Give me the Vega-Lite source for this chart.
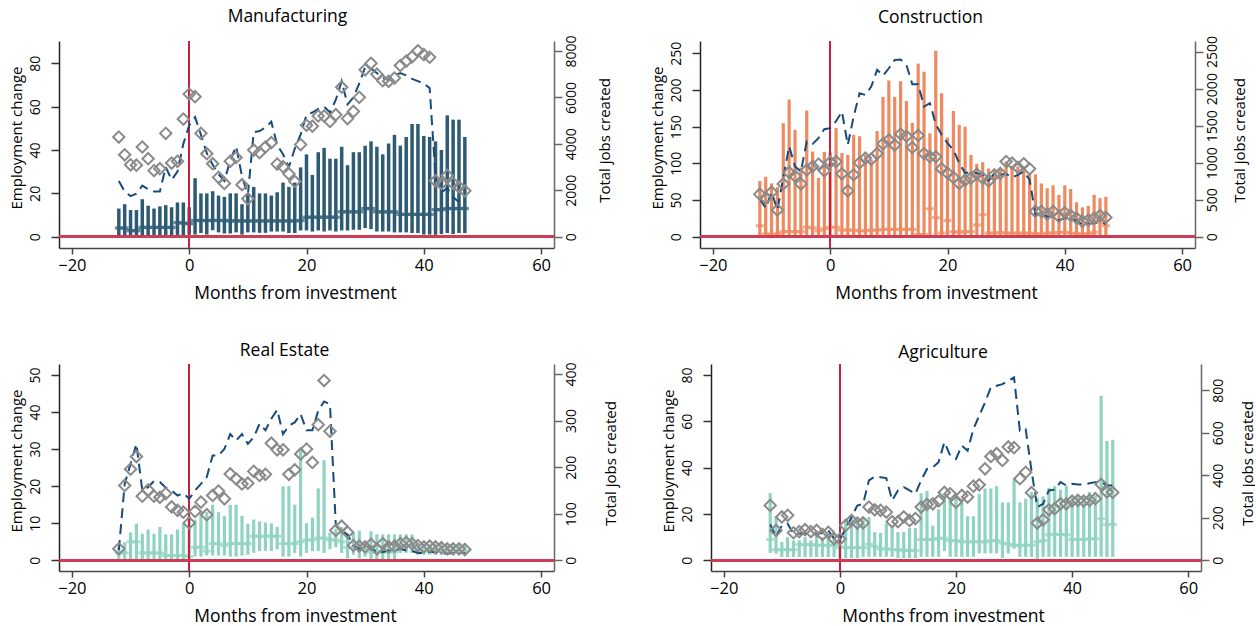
{
"$schema":"https://vega.github.io/schema/vega-lite/v6.json",
"padding":{"left":9,"top":8,"right":0,"bottom":8},
"config":{"view":{"stroke":null},"font":"Open Sans",
"axis":{"labelFont":"Open Sans","titleFont":"Open Sans","labelFontSize":14,"titleFontSize":15,"titleFontWeight":"normal","labelColor":"#000","titleColor":"#000","grid":false,"domainWidth":1.5,"tickWidth":1.5,"labelFlush":false,"labelOverlap":false},
"axisX":{"labelFontSize":16.5,"titleFontSize":17.5},
"title":{"font":"Open Sans","fontSize":17.5,"fontWeight":"normal","color":"#000"}},
"datasets":{
"manu":[
{"m":-12,"lo":0,"hi":13,"e":4,"d":46,"j":2400},
{"m":-11,"lo":0,"hi":15,"e":4,"d":37.8,"j":1950},
{"m":-10,"lo":0,"hi":12.3,"e":2.8,"d":33.2,"j":1750},
{"m":-9,"lo":0,"hi":12.3,"e":2.8,"d":33,"j":1850},
{"m":-8,"lo":0,"hi":17.3,"e":4.3,"d":41.4,"j":2200},
{"m":-7,"lo":0,"hi":14.3,"e":4.3,"d":36,"j":2050},
{"m":-6,"lo":0,"hi":13,"e":4.3,"d":30.5,"j":1950},
{"m":-5,"lo":0,"hi":14,"e":4.3,"d":31.4,"j":1950},
{"m":-4,"lo":0.4,"hi":14.6,"e":4.3,"d":47.7,"j":3000},
{"m":-3,"lo":0.4,"hi":13.6,"e":4.3,"d":34,"j":2450},
{"m":-2,"lo":0.5,"hi":15.8,"e":6.5,"d":34.8,"j":2800},
{"m":-1,"lo":0.5,"hi":15.8,"e":6.3,"d":54.3,"j":4000},
{"m":0,"lo":1,"hi":13.6,"e":6,"d":65.8,"j":4800},
{"m":1,"lo":1,"hi":27,"e":7.5,"d":64.6,"j":5150},
{"m":2,"lo":1.7,"hi":20,"e":7.5,"d":47.7,"j":4400},
{"m":3,"lo":1,"hi":20,"e":7.5,"d":38.3,"j":3600},
{"m":4,"lo":3,"hi":21,"e":7.5,"d":33.7,"j":3100},
{"m":5,"lo":2,"hi":19,"e":7.5,"d":27.4,"j":2700},
{"m":6,"lo":1.5,"hi":18.4,"e":7.5,"d":24.6,"j":2400},
{"m":7,"lo":1.5,"hi":20,"e":7.3,"d":34.8,"j":3300},
{"m":8,"lo":2,"hi":20,"e":7.3,"d":36.6,"j":3900},
{"m":9,"lo":1,"hi":15,"e":7.3,"d":24,"j":2600},
{"m":10,"lo":2,"hi":20,"e":7.3,"d":17.5,"j":1800},
{"m":11,"lo":2,"hi":23,"e":7.3,"d":40,"j":4500},
{"m":12,"lo":1.8,"hi":20,"e":7.3,"d":38.8,"j":4550},
{"m":13,"lo":1.8,"hi":20,"e":7.3,"d":41.4,"j":4700},
{"m":14,"lo":2.4,"hi":19,"e":7.3,"d":43.4,"j":4950},
{"m":15,"lo":2.4,"hi":20.5,"e":7.3,"d":33.5,"j":3950},
{"m":16,"lo":2.4,"hi":25,"e":7.3,"d":32.3,"j":3550},
{"m":17,"lo":1.7,"hi":23,"e":7.3,"d":29,"j":3000},
{"m":18,"lo":1.7,"hi":25,"e":7.3,"d":25.5,"j":3800},
{"m":19,"lo":2.9,"hi":32,"e":7.5,"d":42.5,"j":4400},
{"m":20,"lo":2.9,"hi":38,"e":9,"d":51.4,"j":5250},
{"m":21,"lo":2.4,"hi":28.5,"e":9,"d":51,"j":5350},
{"m":22,"lo":2.9,"hi":39,"e":9,"d":55.7,"j":5500},
{"m":23,"lo":2.4,"hi":41,"e":9,"d":55.7,"j":5600},
{"m":24,"lo":2.9,"hi":36,"e":9,"d":53.2,"j":5350},
{"m":25,"lo":2.4,"hi":36,"e":9,"d":56.3,"j":5900},
{"m":26,"lo":2.9,"hi":41.5,"e":11.5,"d":69,"j":6700},
{"m":27,"lo":2.9,"hi":33,"e":11.5,"d":54.5,"j":5700},
{"m":28,"lo":3.2,"hi":39,"e":11.5,"d":57.8,"j":6000},
{"m":29,"lo":3.2,"hi":39,"e":11.5,"d":64.3,"j":6600},
{"m":30,"lo":4,"hi":42,"e":13,"d":77,"j":7300},
{"m":31,"lo":3.5,"hi":44,"e":13,"d":80,"j":7250},
{"m":32,"lo":2.4,"hi":41.5,"e":11.5,"d":75,"j":7050},
{"m":33,"lo":2.4,"hi":38,"e":11.5,"d":72,"j":6850},
{"m":34,"lo":2.4,"hi":43,"e":11.5,"d":71.7,"j":6750},
{"m":35,"lo":2,"hi":47,"e":11.5,"d":73.2,"j":6950},
{"m":36,"lo":2,"hi":42,"e":10.3,"d":79,"j":7050},
{"m":37,"lo":2,"hi":46,"e":10.3,"d":81,"j":6950},
{"m":38,"lo":1.7,"hi":52,"e":10.3,"d":83,"j":6800},
{"m":39,"lo":1.7,"hi":52,"e":10.3,"d":85.8,"j":6700},
{"m":40,"lo":1,"hi":46.5,"e":10.3,"d":84,"j":6600},
{"m":41,"lo":1,"hi":46,"e":10.3,"d":82.8,"j":6400},
{"m":42,"lo":0.9,"hi":44,"e":12.5,"d":25.8,"j":2600},
{"m":43,"lo":1.2,"hi":40,"e":12.5,"d":24.6,"j":1900},
{"m":44,"lo":1.7,"hi":56,"e":13,"d":28.3,"j":2100},
{"m":45,"lo":1.2,"hi":54,"e":13,"d":24.6,"j":1700},
{"m":46,"lo":1.7,"hi":54,"e":13,"d":23,"j":1500},
{"m":47,"lo":1.7,"hi":46,"e":13,"d":21.2,"j":null}
],
"cons":[
{"m":-12,"lo":0,"hi":76,"e":15,"d":58,"j":512},
{"m":-11,"lo":-1,"hi":81.7,"e":4,"d":52.6,"j":387},
{"m":-10,"lo":-2,"hi":72.6,"e":3,"d":60.8,"j":600},
{"m":-9,"lo":-1,"hi":67.6,"e":4,"d":36.3,"j":364},
{"m":-8,"lo":0,"hi":154.7,"e":7,"d":72,"j":800},
{"m":-7,"lo":0,"hi":187,"e":7,"d":87.6,"j":1220},
{"m":-6,"lo":0,"hi":145.6,"e":7,"d":82.6,"j":950},
{"m":-5,"lo":0,"hi":94.4,"e":7,"d":72,"j":881},
{"m":-4,"lo":0,"hi":172,"e":13,"d":91,"j":1286},
{"m":-3,"lo":1,"hi":116,"e":12,"d":95.7,"j":1254},
{"m":-2,"lo":1,"hi":80,"e":8,"d":99,"j":1331},
{"m":-1,"lo":2,"hi":115.7,"e":11,"d":89.8,"j":1452},
{"m":0,"lo":2,"hi":115,"e":13,"d":101.6,"j":1466},
{"m":1,"lo":2,"hi":148,"e":13,"d":102.5,"j":1560},
{"m":2,"lo":1,"hi":114,"e":9,"d":85.8,"j":1690},
{"m":3,"lo":1,"hi":111.6,"e":9,"d":62.6,"j":1241},
{"m":4,"lo":1,"hi":139,"e":9,"d":84.4,"j":1623},
{"m":5,"lo":1,"hi":137,"e":8,"d":100.7,"j":1938},
{"m":6,"lo":1,"hi":111.6,"e":8,"d":107,"j":1915},
{"m":7,"lo":1,"hi":105,"e":9,"d":105.7,"j":2028},
{"m":8,"lo":1,"hi":144,"e":9,"d":113.4,"j":2253},
{"m":9,"lo":2,"hi":190.6,"e":10,"d":126.6,"j":2176},
{"m":10,"lo":2,"hi":213,"e":10,"d":132,"j":2275},
{"m":11,"lo":2,"hi":190.6,"e":10,"d":125,"j":2388},
{"m":12,"lo":2,"hi":212,"e":10,"d":140,"j":2392},
{"m":13,"lo":2,"hi":185,"e":10,"d":137,"j":2320},
{"m":14,"lo":2,"hi":155,"e":10,"d":121.6,"j":2059},
{"m":15,"lo":-1,"hi":236,"e":3,"d":138,"j":2059},
{"m":16,"lo":-1,"hi":225,"e":3,"d":113.4,"j":1758},
{"m":17,"lo":2,"hi":141,"e":38,"d":109,"j":1803},
{"m":18,"lo":2,"hi":253.6,"e":26,"d":109,"j":1520},
{"m":19,"lo":0,"hi":195.6,"e":5,"d":92.6,"j":1376},
{"m":20,"lo":2,"hi":135,"e":22,"d":86.7,"j":1263},
{"m":21,"lo":1,"hi":171.5,"e":7,"d":80.8,"j":1173},
{"m":22,"lo":1,"hi":152.5,"e":6,"d":72.6,"j":994},
{"m":23,"lo":1,"hi":150,"e":7,"d":77,"j":859},
{"m":24,"lo":1,"hi":111.6,"e":7,"d":79.9,"j":872},
{"m":25,"lo":2,"hi":99.4,"e":16,"d":85.3,"j":859},
{"m":26,"lo":2,"hi":101.6,"e":30,"d":79.9,"j":836},
{"m":27,"lo":0,"hi":93,"e":5,"d":76,"j":755},
{"m":28,"lo":0,"hi":92,"e":5,"d":84.4,"j":859},
{"m":29,"lo":0,"hi":92.6,"e":6,"d":86.2,"j":836},
{"m":30,"lo":0,"hi":102.5,"e":5,"d":102.5,"j":850},
{"m":31,"lo":0,"hi":96.6,"e":5,"d":100.3,"j":800},
{"m":32,"lo":0,"hi":95.7,"e":5,"d":94.4,"j":836},
{"m":33,"lo":0,"hi":95.7,"e":5,"d":99.4,"j":881},
{"m":34,"lo":0,"hi":86,"e":5,"d":92.6,"j":769},
{"m":35,"lo":0,"hi":85,"e":4,"d":34.5,"j":297},
{"m":36,"lo":0,"hi":72.6,"e":4,"d":34.5,"j":297},
{"m":37,"lo":0,"hi":66,"e":5,"d":30.9,"j":274},
{"m":38,"lo":0,"hi":70,"e":5,"d":34.5,"j":274},
{"m":39,"lo":0,"hi":57,"e":6,"d":27.7,"j":220},
{"m":40,"lo":0,"hi":70,"e":6,"d":33,"j":252},
{"m":41,"lo":0,"hi":65,"e":5,"d":29,"j":243},
{"m":42,"lo":0,"hi":47,"e":4,"d":25.4,"j":216},
{"m":43,"lo":-1,"hi":40,"e":4,"d":20.9,"j":162},
{"m":44,"lo":-1,"hi":42,"e":4,"d":22.7,"j":171},
{"m":45,"lo":0,"hi":57,"e":6,"d":25.4,"j":184},
{"m":46,"lo":2,"hi":52.6,"e":20,"d":29,"j":198},
{"m":47,"lo":2,"hi":54.4,"e":15,"d":26.3,"j":171}
],
"real":[
{"m":-12,"lo":0,"hi":3.6,"e":2,"d":3.1,"j":22},
{"m":-11,"lo":0,"hi":4.9,"e":2,"d":20.2,"j":164},
{"m":-10,"lo":0,"hi":7.5,"e":5,"d":24.6,"j":207},
{"m":-9,"lo":0,"hi":9.9,"e":5,"d":28,"j":250},
{"m":-8,"lo":0,"hi":7.2,"e":2,"d":17.3,"j":150},
{"m":-7,"lo":0,"hi":8.3,"e":2,"d":19,"j":157},
{"m":-6,"lo":0,"hi":7.2,"e":2,"d":17.3,"j":170},
{"m":-5,"lo":0,"hi":9,"e":2,"d":17,"j":168},
{"m":-4,"lo":0,"hi":7,"e":1.3,"d":18,"j":156},
{"m":-3,"lo":0,"hi":7,"e":1.3,"d":14.4,"j":150},
{"m":-2,"lo":0,"hi":8.3,"e":1.3,"d":13.5,"j":139},
{"m":-1,"lo":0,"hi":9.9,"e":1.3,"d":13,"j":144},
{"m":0,"lo":0,"hi":12,"e":1,"d":10.1,"j":132},
{"m":1,"lo":1,"hi":11,"e":3.5,"d":13.2,"j":150},
{"m":2,"lo":1,"hi":13.5,"e":3.5,"d":15.7,"j":164},
{"m":3,"lo":1.3,"hi":13,"e":2.5,"d":12.3,"j":179},
{"m":4,"lo":1.3,"hi":15,"e":4.5,"d":17.5,"j":225},
{"m":5,"lo":1.3,"hi":13,"e":4.5,"d":18.7,"j":225},
{"m":6,"lo":1.3,"hi":12,"e":4,"d":16.6,"j":239},
{"m":7,"lo":1,"hi":15,"e":4.5,"d":23.3,"j":271},
{"m":8,"lo":1,"hi":15,"e":4.5,"d":22,"j":257},
{"m":9,"lo":1.3,"hi":12,"e":4.5,"d":20.6,"j":271},
{"m":10,"lo":1.5,"hi":9.9,"e":4.5,"d":20.8,"j":250},
{"m":11,"lo":2,"hi":11,"e":6.5,"d":24,"j":264},
{"m":12,"lo":2.5,"hi":10.5,"e":6.5,"d":22.9,"j":293},
{"m":13,"lo":2.5,"hi":10.2,"e":6.5,"d":23.2,"j":279},
{"m":14,"lo":2.5,"hi":10,"e":6.5,"d":31.6,"j":304},
{"m":15,"lo":3,"hi":9,"e":6.5,"d":29.8,"j":323},
{"m":16,"lo":1,"hi":20,"e":4.5,"d":29.8,"j":271},
{"m":17,"lo":1,"hi":20,"e":4.5,"d":23.2,"j":289},
{"m":18,"lo":2,"hi":15,"e":4.5,"d":24.4,"j":296},
{"m":19,"lo":1,"hi":29.7,"e":5,"d":28.7,"j":314},
{"m":20,"lo":2,"hi":10,"e":5.5,"d":30,"j":279},
{"m":21,"lo":2.5,"hi":11.5,"e":5.5,"d":26.4,"j":279},
{"m":22,"lo":2.5,"hi":19.4,"e":6,"d":36.6,"j":321},
{"m":23,"lo":2,"hi":27,"e":6,"d":48.5,"j":341},
{"m":24,"lo":3,"hi":7.5,"e":5.5,"d":34.8,"j":335},
{"m":25,"lo":3.5,"hi":8.5,"e":5.5,"d":8.1,"j":75},
{"m":26,"lo":2,"hi":9,"e":5,"d":9.2,"j":64},
{"m":27,"lo":0.5,"hi":7.2,"e":3.5,"d":7.6,"j":55},
{"m":28,"lo":1.5,"hi":7.6,"e":3.5,"d":4,"j":32},
{"m":29,"lo":0.5,"hi":8,"e":3.5,"d":3.8,"j":25},
{"m":30,"lo":1,"hi":4.5,"e":3,"d":3.6,"j":27},
{"m":31,"lo":0,"hi":7.8,"e":2.2,"d":4.3,"j":29},
{"m":32,"lo":0,"hi":7,"e":2.2,"d":3.1,"j":16},
{"m":33,"lo":0,"hi":7,"e":2.2,"d":4.5,"j":18},
{"m":34,"lo":0,"hi":7,"e":2.2,"d":3.6,"j":21},
{"m":35,"lo":0,"hi":7,"e":2.2,"d":3.8,"j":20},
{"m":36,"lo":2,"hi":7,"e":4,"d":4.5,"j":25},
{"m":37,"lo":2,"hi":7,"e":4,"d":4.8,"j":21},
{"m":38,"lo":2,"hi":7,"e":4,"d":4.5,"j":20},
{"m":39,"lo":1.5,"hi":4.5,"e":2.5,"d":4,"j":16},
{"m":40,"lo":1.5,"hi":4.5,"e":2.5,"d":3.6,"j":16},
{"m":41,"lo":1.5,"hi":4.5,"e":2.5,"d":3.8,"j":19},
{"m":42,"lo":1.5,"hi":4.5,"e":2.5,"d":3.6,"j":17},
{"m":43,"lo":1.5,"hi":4.5,"e":2.5,"d":3.4,"j":16},
{"m":44,"lo":1.5,"hi":4.5,"e":2.5,"d":3.1,"j":14},
{"m":45,"lo":1.5,"hi":4.5,"e":2.5,"d":3.1,"j":16},
{"m":46,"lo":1.5,"hi":4.5,"e":2.5,"d":3.1,"j":16},
{"m":47,"lo":1.5,"hi":4.5,"e":2.5,"d":2.9,"j":16}
],
"agri":[
{"m":-12,"lo":3.2,"hi":29,"e":9,"d":23.7,"j":169},
{"m":-11,"lo":2.9,"hi":19,"e":4.6,"d":12.9,"j":110},
{"m":-10,"lo":1.4,"hi":7.9,"e":4.6,"d":18.7,"j":164},
{"m":-9,"lo":1.4,"hi":10,"e":4.6,"d":19.4,"j":172},
{"m":-8,"lo":1.4,"hi":8.6,"e":4.6,"d":11.9,"j":125},
{"m":-7,"lo":1.4,"hi":8.6,"e":6.8,"d":12.4,"j":125},
{"m":-6,"lo":1.4,"hi":10,"e":6.8,"d":13.2,"j":128},
{"m":-5,"lo":1.4,"hi":8.6,"e":6.8,"d":12.4,"j":125},
{"m":-4,"lo":1.4,"hi":10.8,"e":6.5,"d":12.9,"j":125},
{"m":-3,"lo":1.4,"hi":10,"e":6.5,"d":11.2,"j":128},
{"m":-2,"lo":1.4,"hi":11.5,"e":6.5,"d":12.1,"j":141},
{"m":-1,"lo":1.4,"hi":11.8,"e":6.5,"d":9.3,"j":102},
{"m":0,"lo":1,"hi":11.5,"e":5.5,"d":9.2,"j":97},
{"m":1,"lo":1,"hi":17.2,"e":5.5,"d":15.1,"j":149},
{"m":2,"lo":1,"hi":19.4,"e":5.5,"d":17.2,"j":203},
{"m":3,"lo":1,"hi":16.5,"e":5.5,"d":16.1,"j":258},
{"m":4,"lo":1.5,"hi":18.7,"e":5.5,"d":16.2,"j":266},
{"m":5,"lo":1.5,"hi":18.7,"e":7,"d":23,"j":376},
{"m":6,"lo":1.5,"hi":12.2,"e":6,"d":21.8,"j":394},
{"m":7,"lo":1.5,"hi":11.8,"e":5,"d":21.6,"j":391},
{"m":8,"lo":1.5,"hi":15.8,"e":5,"d":20.8,"j":387},
{"m":9,"lo":1.5,"hi":14.7,"e":4.6,"d":16.7,"j":282},
{"m":10,"lo":1,"hi":12.2,"e":4.6,"d":16.7,"j":329},
{"m":11,"lo":1,"hi":12.2,"e":4.3,"d":18.7,"j":344},
{"m":12,"lo":1,"hi":14,"e":4.3,"d":17.2,"j":329},
{"m":13,"lo":1,"hi":14,"e":4.3,"d":18,"j":313},
{"m":14,"lo":1.5,"hi":29,"e":9,"d":23,"j":376},
{"m":15,"lo":1.5,"hi":30,"e":9,"d":24.1,"j":430},
{"m":16,"lo":1.5,"hi":15,"e":9,"d":24.4,"j":438},
{"m":17,"lo":1.5,"hi":22,"e":9.5,"d":25.6,"j":462},
{"m":18,"lo":4,"hi":29,"e":9.5,"d":29.3,"j":556},
{"m":19,"lo":1.5,"hi":26.5,"e":8.5,"d":28.7,"j":493},
{"m":20,"lo":1.5,"hi":28.5,"e":8.5,"d":25.1,"j":477},
{"m":21,"lo":1.5,"hi":26,"e":8,"d":28,"j":540},
{"m":22,"lo":1.5,"hi":19,"e":8,"d":27.3,"j":516},
{"m":23,"lo":1.5,"hi":19,"e":8,"d":32,"j":618},
{"m":24,"lo":3,"hi":28.7,"e":8,"d":32.6,"j":681},
{"m":25,"lo":3,"hi":31,"e":8,"d":39.5,"j":743},
{"m":26,"lo":3,"hi":31,"e":8.5,"d":44.8,"j":814},
{"m":27,"lo":3,"hi":32,"e":8.5,"d":46,"j":822},
{"m":28,"lo":1,"hi":25,"e":7.5,"d":43.1,"j":829},
{"m":29,"lo":3,"hi":25,"e":7,"d":48.9,"j":845},
{"m":30,"lo":5,"hi":35,"e":6.5,"d":48.6,"j":861},
{"m":31,"lo":1.5,"hi":25,"e":6.5,"d":35.2,"j":610},
{"m":32,"lo":1.5,"hi":26.6,"e":6.5,"d":38,"j":618},
{"m":33,"lo":1.5,"hi":29.5,"e":6.5,"d":29.2,"j":423},
{"m":34,"lo":0.7,"hi":27,"e":8,"d":16.1,"j":250},
{"m":35,"lo":1.5,"hi":27.6,"e":8.5,"d":17.5,"j":266},
{"m":36,"lo":1.5,"hi":31.3,"e":11,"d":21.8,"j":329},
{"m":37,"lo":1.5,"hi":32,"e":11.2,"d":22.3,"j":332},
{"m":38,"lo":1.5,"hi":30.5,"e":11.2,"d":24.4,"j":368},
{"m":39,"lo":1.5,"hi":32,"e":11,"d":24.4,"j":352},
{"m":40,"lo":1.5,"hi":27.3,"e":9,"d":25.6,"j":360},
{"m":41,"lo":1.5,"hi":28,"e":9,"d":25.9,"j":357},
{"m":42,"lo":1.5,"hi":27.3,"e":9,"d":25.6,"j":357},
{"m":43,"lo":1.5,"hi":29.5,"e":9.3,"d":25.9,"j":363},
{"m":44,"lo":1.5,"hi":28,"e":9.3,"d":26.6,"j":368},
{"m":45,"lo":1.5,"hi":71,"e":18,"d":32.8,"j":368},
{"m":46,"lo":1.5,"hi":51.5,"e":15.5,"d":29.5,"j":352},
{"m":47,"lo":1.5,"hi":52,"e":15.5,"d":29.3,"j":352}
]},
"vconcat":[
{"hconcat":[
{"width":495,"height":207,"data":{"name":"manu"},
"title":{"text":"Manufacturing","frame":"group","anchor":"middle","dx":-19,"offset":9},
"layer":[
{"mark":{"type":"rule","color":"#2d5b74","strokeWidth":3.5},"encoding":{
"x":{"field":"m","type":"quantitative","scale":{"domain":[-22.2,62.2],"nice":false,"zero":false},"axis":{"values":[-20,0,20,40,60],"title":"Months from investment","tickSize":6,"labelPadding":3,"titlePadding":11,"domainColor":"#444","tickColor":"#444","titleX":236}},
"y":{"field":"lo","type":"quantitative","scale":{"domain":[-5.2,90.3],"nice":false,"zero":false},"axis":{"values":[0,20,40,60,80],"title":"Employment change","orient":"left","labelAngle":270,"labelAlign":"center","labelBaseline":"bottom","labelPadding":9,"tickSize":8,"titlePadding":4,"titleY":96.5,"domainColor":"#222","tickColor":"#333"}},
"y2":{"field":"hi"}}},
{"mark":{"type":"tick","orient":"horizontal","color":"#2d5b74","thickness":3.3,"size":8},"encoding":{"x":{"field":"m","type":"quantitative"},"y":{"field":"e","type":"quantitative","scale":{"domain":[-5.2,90.3],"nice":false,"zero":false},"axis":null}}},
{"mark":{"type":"rule","color":"#c8213f","strokeWidth":1.5},"encoding":{"x":{"datum":0}}},
{"mark":{"type":"rule","color":"#cf3d55","strokeWidth":2},"encoding":{"y":{"datum":0,"type":"quantitative","scale":{"domain":[-5.2,90.3],"nice":false,"zero":false},"axis":null}}},
{"mark":{"type":"line","color":"#164b7c","strokeWidth":2,"strokeDash":[10,6]},"encoding":{"x":{"field":"m","type":"quantitative"},"y":{"field":"j","type":"quantitative","scale":{"domain":[-486,8430],"nice":false,"zero":false},"axis":{"values":[0,2000,4000,6000,8000],"format":"d","title":"Total jobs created","orient":"right","labelAngle":270,"labelAlign":"center","labelBaseline":"top","labelPadding":2,"tickSize":8,"titleAngle":270,"titleBaseline":"top","titlePadding":19,"titleY":99,"domainColor":"#666","tickColor":"#666"}}}},
{"mark":{"type":"point","shape":"diamond","filled":false,"color":"#8a8a8a","strokeWidth":2,"size":130,"opacity":1},"encoding":{"x":{"field":"m","type":"quantitative"},"y":{"field":"d","type":"quantitative","scale":{"domain":[-5.2,90.3],"nice":false,"zero":false},"axis":null}}}
],
"resolve":{"scale":{"y":"independent"}}},
{"width":495,"height":207,"data":{"name":"cons"},
"title":{"text":"Construction","frame":"group","anchor":"middle","dx":-17,"offset":9},
"layer":[
{"mark":{"type":"rule","color":"#ee8a5f","strokeWidth":3.2},"encoding":{
"x":{"field":"m","type":"quantitative","scale":{"domain":[-22.2,62.2],"nice":false,"zero":false},"axis":{"values":[-20,0,20,40,60],"title":"Months from investment","tickSize":6,"labelPadding":3,"titlePadding":11,"domainColor":"#444","tickColor":"#444","titleX":236}},
"y":{"field":"lo","type":"quantitative","scale":{"domain":[-15.4,266.8],"nice":false,"zero":false},"axis":{"values":[0,50,100,150,200,250],"title":"Employment change","orient":"left","labelAngle":270,"labelAlign":"center","labelBaseline":"bottom","labelPadding":9,"tickSize":8,"titlePadding":4,"titleY":96.5,"domainColor":"#222","tickColor":"#333"}},
"y2":{"field":"hi"}}},
{"mark":{"type":"tick","orient":"horizontal","color":"#ee8a5f","thickness":3,"size":8},"encoding":{"x":{"field":"m","type":"quantitative"},"y":{"field":"e","type":"quantitative","scale":{"domain":[-15.4,266.8],"nice":false,"zero":false},"axis":null}}},
{"mark":{"type":"rule","color":"#c8213f","strokeWidth":1.5},"encoding":{"x":{"datum":0}}},
{"mark":{"type":"rule","color":"#cf3d55","strokeWidth":2},"encoding":{"y":{"datum":0,"type":"quantitative","scale":{"domain":[-15.4,266.8],"nice":false,"zero":false},"axis":null}}},
{"mark":{"type":"line","color":"#164b7c","strokeWidth":2,"strokeDash":[10,6]},"encoding":{"x":{"field":"m","type":"quantitative"},"y":{"field":"j","type":"quantitative","scale":{"domain":[-152,2643],"nice":false,"zero":false},"axis":{"values":[0,500,1000,1500,2000,2500],"format":"d","title":"Total jobs created","orient":"right","labelAngle":270,"labelAlign":"center","labelBaseline":"top","labelPadding":2,"tickSize":8,"titleAngle":270,"titleBaseline":"top","titlePadding":13,"titleY":99,"domainColor":"#666","tickColor":"#666"}}}},
{"mark":{"type":"point","shape":"diamond","filled":false,"color":"#8a8a8a","strokeWidth":2,"size":130,"opacity":1},"encoding":{"x":{"field":"m","type":"quantitative"},"y":{"field":"d","type":"quantitative","scale":{"domain":[-15.4,266.8],"nice":false,"zero":false},"axis":null}}}
],
"resolve":{"scale":{"y":"independent"}}}
],"spacing":37},
{"hconcat":[
{"width":495,"height":207,"data":{"name":"real"},
"title":{"text":"Real Estate","frame":"group","anchor":"middle","dx":-22,"offset":2},
"layer":[
{"mark":{"type":"rule","color":"#8fd3c0","strokeWidth":3.2},"encoding":{
"x":{"field":"m","type":"quantitative","scale":{"domain":[-22.2,62.2],"nice":false,"zero":false},"axis":{"values":[-20,0,20,40,60],"title":"Months from investment","tickSize":6,"labelPadding":3,"titlePadding":11,"domainColor":"#444","tickColor":"#444","titleX":236}},
"y":{"field":"lo","type":"quantitative","scale":{"domain":[-2.88,52.96],"nice":false,"zero":false},"axis":{"values":[0,10,20,30,40,50],"title":"Employment change","orient":"left","labelAngle":270,"labelAlign":"center","labelBaseline":"bottom","labelPadding":9,"tickSize":8,"titlePadding":4,"titleY":96.5,"domainColor":"#222","tickColor":"#333"}},
"y2":{"field":"hi"}}},
{"mark":{"type":"tick","orient":"horizontal","color":"#8fd3c0","thickness":3,"size":8},"encoding":{"x":{"field":"m","type":"quantitative"},"y":{"field":"e","type":"quantitative","scale":{"domain":[-2.88,52.96],"nice":false,"zero":false},"axis":null}}},
{"mark":{"type":"rule","color":"#c8213f","strokeWidth":1.5},"encoding":{"x":{"datum":0}}},
{"mark":{"type":"rule","color":"#cf3d55","strokeWidth":2},"encoding":{"y":{"datum":0,"type":"quantitative","scale":{"domain":[-2.88,52.96],"nice":false,"zero":false},"axis":null}}},
{"mark":{"type":"line","color":"#164b7c","strokeWidth":2,"strokeDash":[10,6]},"encoding":{"x":{"field":"m","type":"quantitative"},"y":{"field":"j","type":"quantitative","scale":{"domain":[-22.9,421.4],"nice":false,"zero":false},"axis":{"values":[0,100,200,300,400],"format":"d","title":"Total jobs created","orient":"right","labelAngle":270,"labelAlign":"center","labelBaseline":"top","labelPadding":2,"tickSize":8,"titleAngle":270,"titleBaseline":"top","titlePadding":25,"titleY":99,"domainColor":"#666","tickColor":"#666"}}}},
{"mark":{"type":"point","shape":"diamond","filled":false,"color":"#8a8a8a","strokeWidth":2,"size":130,"opacity":1},"encoding":{"x":{"field":"m","type":"quantitative"},"y":{"field":"d","type":"quantitative","scale":{"domain":[-2.88,52.96],"nice":false,"zero":false},"axis":null}}}
],
"resolve":{"scale":{"y":"independent"}}},
{"width":490,"height":207,"data":{"name":"agri"},
"title":{"text":"Agriculture","frame":"group","anchor":"middle","dx":-13,"offset":2},
"layer":[
{"mark":{"type":"rule","color":"#8fd3c0","strokeWidth":3.2},"encoding":{
"x":{"field":"m","type":"quantitative","scale":{"domain":[-22.2,62.2],"nice":false,"zero":false},"axis":{"values":[-20,0,20,40,60],"title":"Months from investment","tickSize":6,"labelPadding":3,"titlePadding":11,"domainColor":"#444","tickColor":"#444","titleX":232}},
"y":{"field":"lo","type":"quantitative","scale":{"domain":[-4.6,84.7],"nice":false,"zero":false},"axis":{"values":[0,20,40,60,80],"title":"Employment change","orient":"left","labelAngle":270,"labelAlign":"center","labelBaseline":"bottom","labelPadding":9,"tickSize":8,"titlePadding":4,"titleY":96.5,"domainColor":"#222","tickColor":"#333"}},
"y2":{"field":"hi"}}},
{"mark":{"type":"tick","orient":"horizontal","color":"#8fd3c0","thickness":3,"size":8},"encoding":{"x":{"field":"m","type":"quantitative"},"y":{"field":"e","type":"quantitative","scale":{"domain":[-4.6,84.7],"nice":false,"zero":false},"axis":null}}},
{"mark":{"type":"rule","color":"#c8213f","strokeWidth":1.5},"encoding":{"x":{"datum":0}}},
{"mark":{"type":"rule","color":"#cf3d55","strokeWidth":2},"encoding":{"y":{"datum":0,"type":"quantitative","scale":{"domain":[-4.6,84.7],"nice":false,"zero":false},"axis":null}}},
{"mark":{"type":"line","color":"#164b7c","strokeWidth":2,"strokeDash":[10,6]},"encoding":{"x":{"field":"m","type":"quantitative"},"y":{"field":"j","type":"quantitative","scale":{"domain":[-50.3,924],"nice":false,"zero":false},"axis":{"values":[0,200,400,600,800],"format":"d","title":"Total jobs created","orient":"right","labelAngle":270,"labelAlign":"center","labelBaseline":"top","labelPadding":2,"tickSize":8,"titleAngle":270,"titleBaseline":"top","titlePadding":15,"titleY":99,"domainColor":"#666","tickColor":"#666"}}}},
{"mark":{"type":"point","shape":"diamond","filled":false,"color":"#8a8a8a","strokeWidth":2,"size":130,"opacity":1},"encoding":{"x":{"field":"m","type":"quantitative"},"y":{"field":"d","type":"quantitative","scale":{"domain":[-4.6,84.7],"nice":false,"zero":false},"axis":null}}}
],
"resolve":{"scale":{"y":"independent"}}}
],"spacing":43}
],"spacing":40}
